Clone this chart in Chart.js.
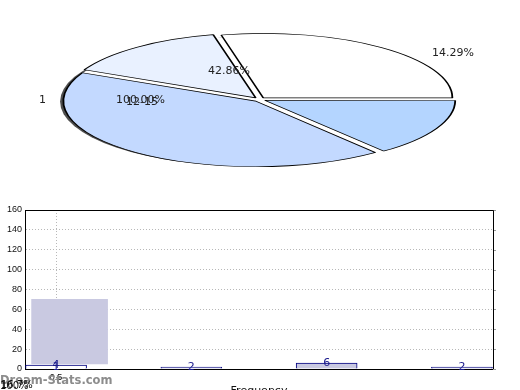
<!DOCTYPE html>
<html>
<head>
<meta charset="utf-8">
<script src="https://cdn.jsdelivr.net/npm/chart.js@4.4.0/dist/chart.umd.min.js"></script>
<style>
html, body { margin: 0; padding: 0; background: #fff; }
#wrap { position: relative; width: 520px; height: 390px; overflow: hidden; }
canvas { position: absolute; left: 0; top: 0; }
</style>
</head>
<body>
<div id="wrap">
<canvas id="bar-chart" width="520" height="390"></canvas>
<canvas id="pie-chart" width="520" height="200"></canvas>
</div>
<script>
// pie slices, clockwise from 3 o'clock
const pieCounts = [1, 3, 1, 2];
const pieColors = ['#b4d5ff', '#c3d9ff', '#e9f1ff', '#ffffff'];

// bottom chart
const barX = [0.5, 1.5, 2.5, 3.5];
const barValues = [4, 2, 6, 2];
const barLabels = ['4', '2', '6', '2'];
const barFills = ['#ffffff', '#c9c9e1', '#c9c9e1', '#c9c9e1'];
const boxX = 0.6;
const boxRange = [5, 70];
const xTickValues = [0.5];
const yMax = 160;
const yStep = 20;

// squash the pie into an ellipse and put a shadow under it
const squashPie = {
    id: 'squashPie',
    beforeDatasetsDraw(chart) {
        const arc = chart.getDatasetMeta(0).data[0];
        const r = arc.outerRadius + 3;
        const ctx = chart.ctx;
        ctx.save();
        ctx.translate(259.5, 99.5);
        ctx.scale(195 / r, 66.5 / r);
        ctx.translate(-arc.x, -arc.y);
        ctx.save();
        ctx.beginPath();
        ctx.arc(arc.x - 5.0, arc.y + 3.0, arc.outerRadius + 0.2, 0, Math.PI * 2);
        ctx.fillStyle = 'rgba(60,60,60,0.9)';
        ctx.filter = 'blur(0.7px)';
        ctx.fill();
        ctx.filter = 'none';
        ctx.beginPath();
        ctx.arc(arc.x - 3.3, arc.y + 2.7, arc.outerRadius + 0.2, 0, Math.PI * 2);
        ctx.fillStyle = '#fff';
        ctx.fill();
        ctx.restore();
    },
    afterDatasetsDraw(chart) {
        chart.ctx.restore();
        const ctx = chart.ctx;
        ctx.save();
        ctx.fillStyle = '#222';
        ctx.font = '11px "DejaVu Sans"';
        ctx.textBaseline = 'middle';
        ctx.fillText('14.29%', 432, 53);
        ctx.fillText('42.86%', 208, 71);
        ctx.fillText('100.00%', 116, 100);
        ctx.fillText('12-15', 126, 102);
        ctx.fillText('1', 39, 100);
        ctx.restore();
    }
};

new Chart(document.getElementById('pie-chart'), {
    type: 'pie',
    data: {
        datasets: [{
            data: pieCounts,
            backgroundColor: pieColors,
            borderColor: '#000',
            borderWidth: 0.9,
            offset: 12
        }]
    },
    options: {
        responsive: false,
        animation: false,
        rotation: 90,
        plugins: { legend: { display: false }, tooltip: { enabled: false } }
    },
    plugins: [squashPie]
});

// frame, right ticks, bar labels and loose texts
const barExtras = {
    id: 'barExtras',
    afterDatasetsDraw(chart) {
        const ctx = chart.ctx;
        const a = chart.chartArea;
        const y = chart.scales.y;
        ctx.save();
        ctx.strokeStyle = '#999';
        ctx.lineWidth = 1;
        y.ticks.forEach(t => {
            const py = Math.round(y.getPixelForValue(t.value)) + 0.5;
            ctx.beginPath();
            ctx.moveTo(a.right, py);
            ctx.lineTo(a.right + 3, py);
            ctx.stroke();
        });
        ctx.strokeStyle = '#000';
        ctx.beginPath();
        ctx.moveTo(a.left, a.top + 0.5);
        ctx.lineTo(a.right + 0.5, a.top + 0.5);
        ctx.lineTo(a.right + 0.5, a.bottom);
        ctx.stroke();

        const meta = chart.getDatasetMeta(0);
        ctx.fillStyle = '#1a1a8c';
        ctx.font = '11px "DejaVu Sans"';
        ctx.textAlign = 'center';
        ctx.textBaseline = 'middle';
        meta.data.forEach((el, i) => ctx.fillText(barLabels[i], el.x, el.y));
        ctx.fillText('1', meta.data[0].x, meta.data[0].y + 2);

        ctx.fillStyle = '#111';
        ctx.font = '11px "DejaVu Sans"';
        ctx.textBaseline = 'alphabetic';
        ctx.fillText('Frequency', 259, 394);

        ctx.textAlign = 'left';
        ctx.fillStyle = '#8c8c8c';
        ctx.font = 'bold 11.5px "DejaVu Sans"';
        ctx.fillText('Dream-Stats.com', 0, 384);
        ctx.fillStyle = '#111';
        ctx.font = '10px "DejaVu Sans"';
        ctx.fillText('100%', 0, 389);
        ctx.fillText('16.7%', 1, 388);
        ctx.restore();
    }
};

new Chart(document.getElementById('bar-chart'), {
    type: 'bar',
    data: {
        datasets: [{
            data: barX.map((x, i) => ({ x: x, y: barValues[i] })),
            backgroundColor: barFills,
            borderColor: '#000080',
            borderWidth: 1,
            barThickness: 61,
            stack: 'all'
        }, {
            data: [{ x: boxX, y: boxRange }],
            backgroundColor: '#c9c9e1',
            borderWidth: 0,
            barThickness: 76,
            stack: 'all'
        }]
    },
    options: {
        responsive: false,
        animation: false,
        layout: { padding: { top: 210, right: 27, left: 0, bottom: 0 } },
        plugins: { legend: { display: false }, tooltip: { enabled: false } },
        scales: {
            x: {
                type: 'linear',
                offset: false,
                min: 0.5 - 31 / 135,
                max: 3.5 + 31 / 135,
                afterBuildTicks: s => { s.ticks = xTickValues.map(v => ({ value: v })); },
                afterFit: s => { s.height = 21; },
                ticks: {
                    padding: 3,
                    color: '#111',
                    font: { family: 'Liberation Sans', size: 9 },
                    callback: v => Number(v).toFixed(1)
                },
                grid: { color: '#b8b8b8', drawTicks: false, offset: false },
                border: { display: true, color: '#000', width: 1, dash: [1, 2] }
            },
            y: {
                min: 0,
                max: yMax,
                stacked: false,
                afterFit: s => { s.width = 25; },
                ticks: {
                    stepSize: yStep,
                    padding: 3,
                    color: '#111',
                    font: { family: 'Liberation Sans', size: 9 }
                },
                grid: { color: '#b8b8b8', drawTicks: false },
                border: { display: true, color: '#000', width: 1, dash: [1, 2] }
            }
        }
    },
    plugins: [barExtras]
});
</script>
</body>
</html>
